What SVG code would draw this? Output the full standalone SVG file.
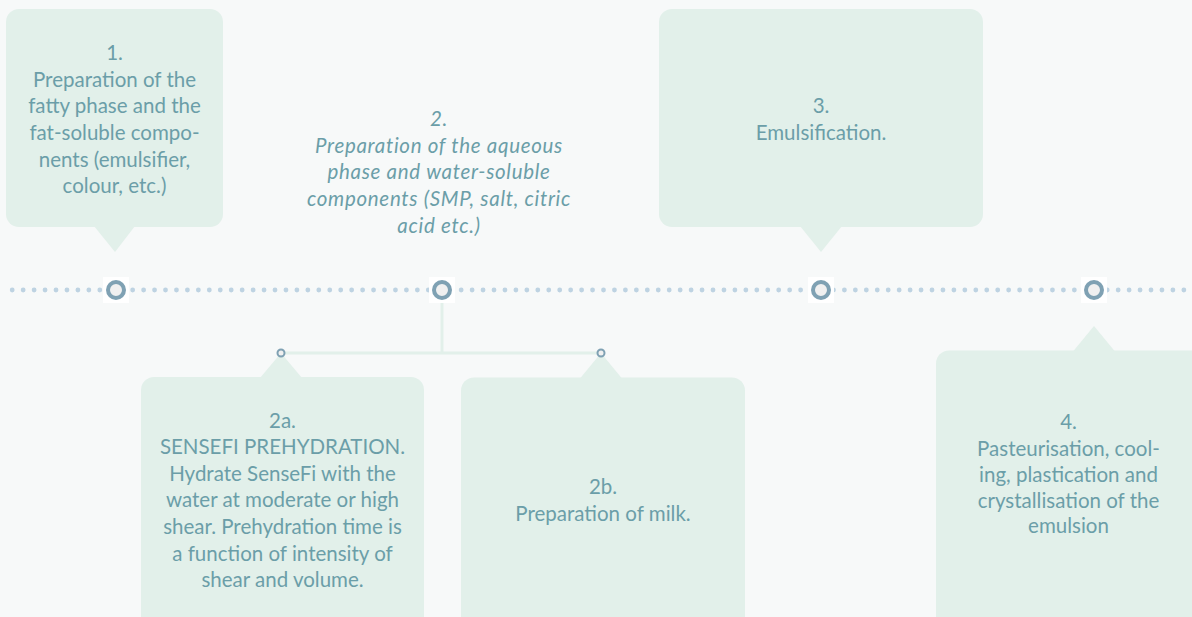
<svg xmlns="http://www.w3.org/2000/svg" width="1192" height="617" viewBox="0 0 1192 617">
<style>
.box{fill:#e2f0ea}
.t{font-family:Lato,"Open Sans",sans-serif;font-size:20.5px;fill:#6b9ea8;text-anchor:middle}
.it{font-style:italic;letter-spacing:0.7px}
.ring{fill:#f0f0f0;stroke:#7fa1b3;stroke-width:4}
.sring{fill:#f0f0f0;stroke:#7fa1b3;stroke-width:2}
.bg{fill:#ffffff}
.conn{stroke:#e2f0ea;stroke-width:3;fill:none}
</style>
<rect width="1192" height="617" fill="#f7f9f9"/>
<g id="timeline">
<line x1="12.2" y1="290" x2="1186" y2="290" stroke="#bed3e2" stroke-width="4.8" stroke-linecap="round" stroke-dasharray="0.01 10.94"/>
</g>
<g id="connectors">
<line class="conn" x1="442" y1="290" x2="442" y2="353"/>
<line class="conn" x1="281" y1="353" x2="601" y2="353"/>
</g>
<g id="node1">
<rect class="box" x="6" y="9" width="217" height="218" rx="13"/>
<polygon class="box" points="94,226 135,226 115,252"/>
<text class="t"><tspan x="114.5" y="60">1.</tspan><tspan x="114.5" y="86.7">Preparation of the</tspan><tspan x="114.5" y="113.3">fatty phase and the</tspan><tspan x="114.5" y="140">fat-soluble compo-</tspan><tspan x="114.5" y="166.7">nents (emulsifier,</tspan><tspan x="114.5" y="193.3">colour, etc.)</tspan></text>
</g>
<g id="node2">
<text class="t it"><tspan x="439" y="126">2.</tspan><tspan x="439" y="152.7">Preparation of the aqueous</tspan><tspan x="439" y="179.3">phase and water-soluble</tspan><tspan x="439" y="206">components (SMP, salt, citric</tspan><tspan x="439" y="232.7">acid etc.)</tspan></text>
</g>
<g id="node3">
<rect class="box" x="659" y="9" width="324" height="218" rx="13"/>
<polygon class="box" points="800,226 842,226 821,252"/>
<text class="t"><tspan x="821" y="113">3.</tspan><tspan x="821" y="139.5">Emulsification.</tspan></text>
</g>
<g id="node2a">
<rect class="box" x="141" y="377" width="283" height="260" rx="13"/>
<polygon class="box" points="260,378 302,378 281,353"/>
<text class="t"><tspan x="282.5" y="428.3">2a.</tspan><tspan x="282.5" y="454">SENSEFI PREHYDRATION.</tspan><tspan x="282.5" y="480.7">Hydrate SenseFi with the</tspan><tspan x="282.5" y="507.3">water at moderate or high</tspan><tspan x="282.5" y="534">shear. Prehydration time is</tspan><tspan x="282.5" y="560.7">a function of intensity of</tspan><tspan x="282.5" y="587.3">shear and volume.</tspan></text>
</g>
<g id="node2b">
<rect class="box" x="461" y="377.5" width="284" height="260" rx="13"/>
<polygon class="box" points="580,378.5 622,378.5 601,353"/>
<text class="t"><tspan x="603" y="494">2b.</tspan><tspan x="603" y="520.7">Preparation of milk.</tspan></text>
</g>
<g id="node4">
<rect class="box" x="936" y="350.5" width="270" height="290" rx="13"/>
<polygon class="box" points="1073,351.5 1115,351.5 1094,326"/>
<text class="t"><tspan x="1068.5" y="429.3">4.</tspan><tspan x="1068.5" y="456">Pasteurisation, cool-</tspan><tspan x="1068.5" y="482">ing, plastication and</tspan><tspan x="1068.5" y="507.5">crystallisation of the</tspan><tspan x="1068.5" y="533.3">emulsion</tspan></text>
</g>
<g id="markers">
<rect class="bg" x="103" y="277" width="26" height="26"/>
<circle class="ring" cx="116" cy="290" r="8"/>
<rect class="bg" x="429" y="277" width="26" height="26"/>
<circle class="ring" cx="442" cy="290" r="8"/>
<rect class="bg" x="808" y="277" width="26" height="26"/>
<circle class="ring" cx="821" cy="290" r="8"/>
<rect class="bg" x="1081" y="277" width="26" height="26"/>
<circle class="ring" cx="1094" cy="290" r="8"/>
<circle class="sring" cx="281" cy="353" r="3.5"/>
<circle class="sring" cx="601" cy="353" r="3.5"/>
</g>
</svg>
